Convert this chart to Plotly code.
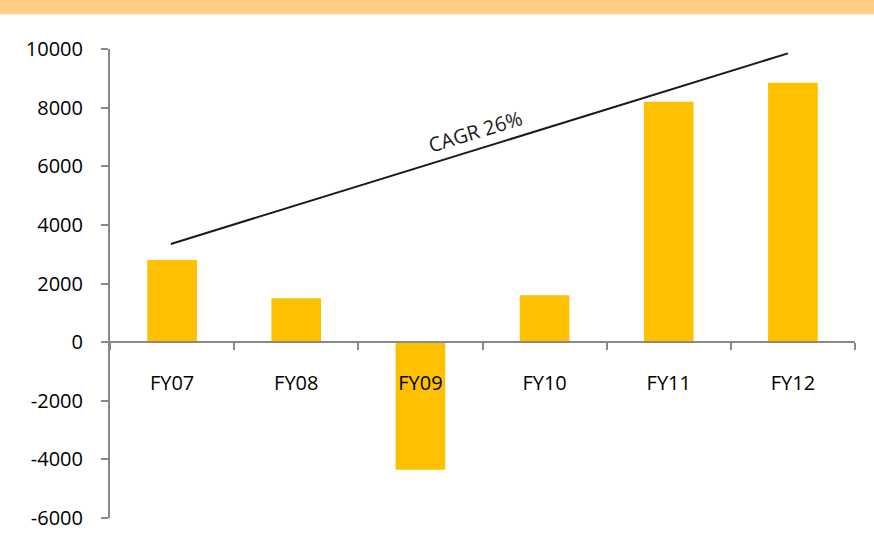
import plotly.graph_objects as go

categories = ["FY07", "FY08", "FY09", "FY10", "FY11", "FY12"]
values = [2800, 1500, -4350, 1600, 8200, 8850]
y_ticks = [-6000, -4000, -2000, 0, 2000, 4000, 6000, 8000, 10000]
y_tick_labels = ["-6000", "-4000", "-2000", "0", "2000", "4000", "6000", "8000", "10000"]
trend_x = [-0.01, 4.96]
trend_y = [3350, 9850]
trend_label = "CAGR 26%"

FONT = "Open Sans"
fig = go.Figure()
fig.add_trace(go.Bar(x=categories, y=values, marker=dict(color="#FFC000", line=dict(width=0)),
                     showlegend=False))

fig.add_shape(type="line", xref="x", yref="y", x0=trend_x[0], x1=trend_x[1],
              y0=trend_y[0], y1=trend_y[1], line=dict(color="#1a1a1a", width=2))

fig.add_annotation(x=2.44, y=7186, xref="x", yref="y", text=trend_label, showarrow=False,
                   textangle=-17, font=dict(family=FONT, size=20, color="#1a1a1a"))

# top band
fig.add_shape(type="rect", xref="paper", yref="paper", x0=-0.16, x1=1.04, y0=1.0742, y1=1.11,
              fillcolor="#FFCE85", line=dict(width=0), layer="below")

fig.update_layout(
    width=874, height=543,
    margin=dict(l=110, r=19, t=49, b=21),
    paper_bgcolor="white", plot_bgcolor="white",
    bargap=0.6,
    font=dict(family=FONT, size=20, color="#000000"),
    xaxis=dict(
        type="category", range=[-0.5, 5.5],
        anchor="free", position=0.375,
        showline=True, linecolor="#898989", linewidth=2,
        ticks="outside", tickson="boundaries", ticklen=7, tickwidth=2, tickcolor="#898989",
        ticklabelstandoff=23,
        showgrid=False, zeroline=False,
        tickfont=dict(family=FONT, size=20, color="#000000"),
    ),
    yaxis=dict(
        range=[-6000, 10000], tickvals=y_ticks, ticktext=y_tick_labels,
        showline=True, linecolor="#898989", linewidth=2,
        ticks="outside", ticklen=7, tickwidth=2, tickcolor="#898989",
        ticklabelstandoff=14,
        showgrid=False, zeroline=False,
        tickfont=dict(family=FONT, size=20, color="#000000"),
    ),
)

fig.write_html("out.html")
